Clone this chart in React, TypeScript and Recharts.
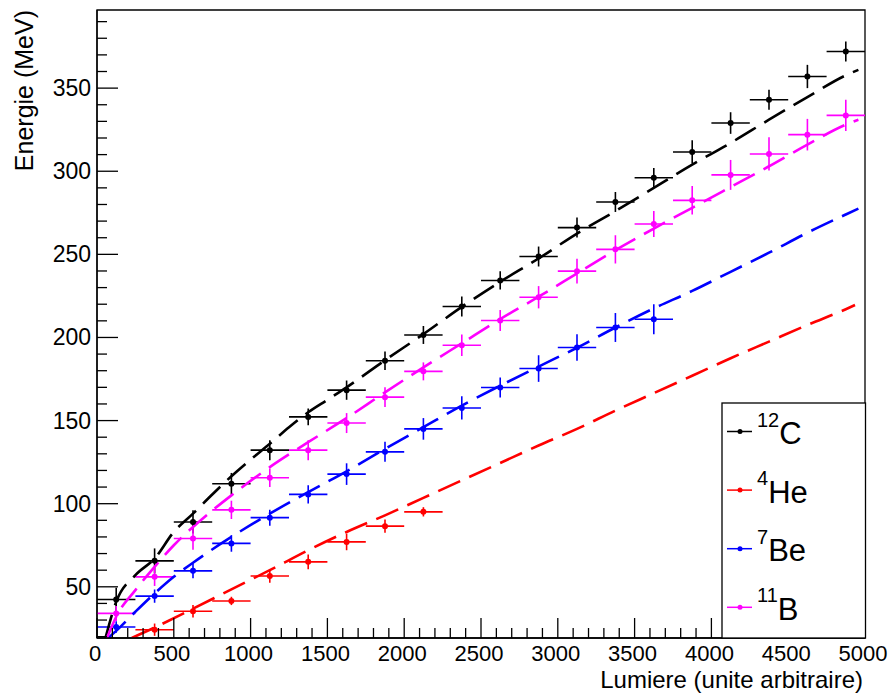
import React from "react"
import {
  ComposedChart,
  Scatter,
  Line,
  XAxis,
  YAxis,
  ErrorBar,
  ReferenceArea,
} from "recharts"

// bin centres of the light axis, every bin is 250 wide
const binCenters = [
  125, 375, 625, 875, 1125, 1375, 1625, 1875, 2125, 2375,
  2625, 2875, 3125, 3375, 3625, 3875, 4125, 4375, 4625, 4875,
]
const binHalfWidth = 125

// 12C
const carbonE = [
  42.4, 65.6, 89, 112, 132.2, 152.2, 168.3, 186, 201.5, 218.6,
  234.3, 248.7, 266.1, 281.5, 296.1, 311.6, 329, 343, 357, 372,
]
const carbonErr = [7, 7.5, 7, 6.5, 6, 5, 5.8, 5.5, 5.4, 6, 5.5, 6, 6, 6, 5.8, 7, 6.5, 6, 7, 6]

// 4He (first bin out of range)
const heliumE = [24.2, 35.3, 41.5, 56.5, 65, 77, 86.5, 95.1]
const heliumErr = [3.7, 3.8, 2.5, 4, 4.5, 5, 4, 2.8]

// 7Be
const berylliumE = [25.8, 44.4, 59.6, 76.1, 91.6, 105.6, 117.8, 131.2, 145, 157.6, 169.9, 181.3, 194, 206, 211]
const berylliumErr = [3.5, 4, 4.5, 5, 4.8, 5.5, 6.5, 6, 6.5, 7, 6, 8, 8, 8.7, 9]

// 11B
const boronE = [
  34, 56, 79.1, 96.3, 115.6, 132.2, 148.5, 164.1, 179.6, 195.3,
  210.2, 224.2, 239.9, 253, 268.3, 282.5, 297.8, 310.4, 322, 333.6,
]
const boronErr = [4.5, 5.5, 6.8, 5.5, 5.5, 6, 6, 6, 5.4, 6.5, 6.3, 6.7, 7.5, 8.5, 7.8, 8.6, 9, 10, 9.5, 9.4]

// fitted curves
const carbonFitX = [55, 125, 250, 375, 500, 625, 750, 875, 1000, 1125, 1250, 1375, 1500, 1625, 1875, 2125, 2375, 2625, 2875, 3125, 3375, 3625, 3875, 4125, 4375, 4625, 4875, 4957]
const carbonFitY = [19.2, 41, 57, 67, 83, 94, 105.5, 116.5, 126.5, 136, 146, 155, 162.5, 170, 186.3, 202, 218.4, 233.5, 247.5, 262.5, 276, 290, 304, 317, 331, 344.6, 357.7, 361]

const heliumFitX = [226, 375, 625, 875, 1125, 1375, 1625, 1875, 2125, 2375, 2625, 2875, 3125, 3375, 3625, 3875, 4125, 4375, 4625, 4875, 4935]
const heliumFitY = [19.2, 25.5, 36.8, 48.5, 60, 72, 83, 93, 103.5, 114, 124.5, 135, 145, 156, 166.5, 177, 187.5, 197.5, 207.5, 217, 219.5]

const berylliumFitX = [72, 125, 250, 375, 500, 625, 875, 1125, 1375, 1625, 1875, 2125, 2375, 2625, 2875, 3125, 3375, 3625, 3875, 4125, 4375, 4625, 4875, 4957]
const berylliumFitY = [19.2, 23.5, 35, 46, 56, 64.5, 80, 94, 107, 119.5, 133, 146, 159, 171, 182.5, 193.8, 206, 217.5, 228, 239.5, 251, 263, 274, 277.5]

const boronFitX = [65, 125, 250, 375, 500, 625, 875, 1125, 1375, 1625, 1875, 2125, 2375, 2625, 2875, 3125, 3375, 3625, 3875, 4125, 4375, 4625, 4875, 4957]
const boronFitY = [19.2, 32, 48, 62, 75, 86, 105, 122, 137, 151.5, 167, 182, 196.5, 211, 224.5, 238.5, 252.5, 265.5, 278, 290.5, 303, 316, 328, 331]

const xLabels = [0, 500, 1000, 1500, 2000, 2500, 3000, 3500, 4000, 4500, 5000]
const yLabels = [50, 100, 150, 200, 250, 300, 350]

const W = 893
const H = 693
const PLOT_LEFT = 97
const PLOT_BOTTOM = 638
const FONT = "'Liberation Sans', Arial, Helvetica, sans-serif"

const xTicks: number[] = []
for (let v = 0; v <= 5000; v += 100) xTicks.push(v)
const yTicks: number[] = []
for (let v = 20; v <= 390; v += 10) yTicks.push(v)

function points(xs: number[], ys: number[], errs: number[]) {
  return ys.map((y, i) => ({ x: xs[i], y, ex: binHalfWidth, ey: errs[i] }))
}

function curve(xs: number[], ys: number[]) {
  return xs.map((x, i) => ({ x, y: ys[i] }))
}

const series = [
  { name: "12C", sup: "12", el: "C", color: "#000000", pts: points(binCenters, carbonE, carbonErr), fit: curve(carbonFitX, carbonFitY) },
  { name: "4He", sup: "4", el: "He", color: "#ff0000", pts: points(binCenters.slice(1), heliumE, heliumErr), fit: curve(heliumFitX, heliumFitY) },
  { name: "7Be", sup: "7", el: "Be", color: "#0000ff", pts: points(binCenters, berylliumE, berylliumErr), fit: curve(berylliumFitX, berylliumFitY) },
  { name: "11B", sup: "11", el: "B", color: "#ff00ff", pts: points(binCenters, boronE, boronErr), fit: curve(boronFitX, boronFitY) },
]

function XTick(props: any) {
  const { x, payload } = props
  const v = payload.value
  const major = xLabels.includes(v)
  return (
    <g>
      <line x1={x} y1={PLOT_BOTTOM} x2={x} y2={PLOT_BOTTOM - (major ? 20 : 10)} stroke="#000" strokeWidth={1.3} />
      {major && (
        <text x={x - 2} y={PLOT_BOTTOM + 23} textAnchor="middle" fontSize={22} fontFamily={FONT} fill="#000">
          {v}
        </text>
      )}
    </g>
  )
}

function YTick(props: any) {
  const { y, payload } = props
  const v = payload.value
  const major = yLabels.includes(v)
  return (
    <g>
      <line x1={PLOT_LEFT} y1={y} x2={PLOT_LEFT + (major ? 21 : 10)} y2={y} stroke="#000" strokeWidth={1.3} />
      {major && (
        <text x={PLOT_LEFT - 6} y={y + 8} textAnchor="end" fontSize={23} fontFamily={FONT} fill="#000">
          {v}
        </text>
      )}
    </g>
  )
}

function Dot(color: string) {
  return (p: any) => <circle cx={p.cx} cy={p.cy} r={3} fill={color} />
}

export default function App() {
  return (
    <div style={{ position: "absolute", left: 0, top: 0, width: W, height: H, background: "#fff" }}>
      <ComposedChart width={W} height={H} margin={{ top: 10, right: 28, bottom: 15, left: 0 }}>
        <XAxis
          dataKey="x"
          type="number"
          domain={[0, 5000]}
          allowDataOverflow
          ticks={xTicks}
          interval={0}
          tick={XTick}
          tickLine={false}
          tickSize={0}
          tickMargin={0}
          height={40}
          axisLine={{ stroke: "#000", strokeWidth: 1.3 }}
        />
        <YAxis
          dataKey="y"
          type="number"
          domain={[19.2, 397]}
          allowDataOverflow
          ticks={yTicks}
          interval={0}
          tick={YTick}
          tickLine={false}
          tickSize={0}
          tickMargin={0}
          width={97}
          axisLine={{ stroke: "#000", strokeWidth: 1.3 }}
        />
        <ReferenceArea x1={0} x2={5000} y1={19.2} y2={397} fill="none" stroke="#000" strokeWidth={1.3} ifOverflow="visible" />
        {series.map((s) => (
          <Scatter key={s.name + "pts"} data={s.pts} fill={s.color} shape={Dot(s.color)} isAnimationActive={false}>
            <ErrorBar dataKey="ex" direction="x" width={0} stroke={s.color} strokeWidth={1.6} isAnimationActive={false} />
            <ErrorBar dataKey="ey" direction="y" width={0} stroke={s.color} strokeWidth={1.6} isAnimationActive={false} />
          </Scatter>
        ))}
        {series.map((s) => (
          <Line
            key={s.name + "fit"}
            data={s.fit}
            dataKey="y"
            type="monotone"
            stroke={s.color}
            strokeWidth={2.6}
            strokeDasharray="24 10"
            dot={false}
            activeDot={false}
            isAnimationActive={false}
          />
        ))}
      </ComposedChart>
      <svg width={W} height={H} style={{ position: "absolute", left: 0, top: 0, pointerEvents: "none" }}>
        <text x={33} y={10} transform="rotate(-90 33 10)" textAnchor="end" fontSize={25} fontFamily={FONT} fill="#000">
          Energie (MeV)
        </text>
        <text x={863} y={688} textAnchor="end" fontSize={24} fontFamily={FONT} fill="#000">
          Lumiere (unite arbitraire)
        </text>
        <rect x={722} y={403} width={143.5} height={235} fill="#fff" stroke="#000" strokeWidth={1.3} />
        {series.map((s, i) => {
          const cy = 431.5 + i * 58.6
          return (
            <g key={s.name + "leg"}>
              <line x1={727} y1={cy} x2={752} y2={cy} stroke={s.color} strokeWidth={1.5} />
              <circle cx={740} cy={cy} r={2.5} fill={s.color} />
              <text x={757} y={cy + 12.5} fontFamily={FONT} fill="#000">
                <tspan fontSize={20} dy={-17.5}>{s.sup}</tspan>
                <tspan fontSize={31} dy={17.5}>{s.el}</tspan>
              </text>
            </g>
          )
        })}
      </svg>
    </div>
  )
}
